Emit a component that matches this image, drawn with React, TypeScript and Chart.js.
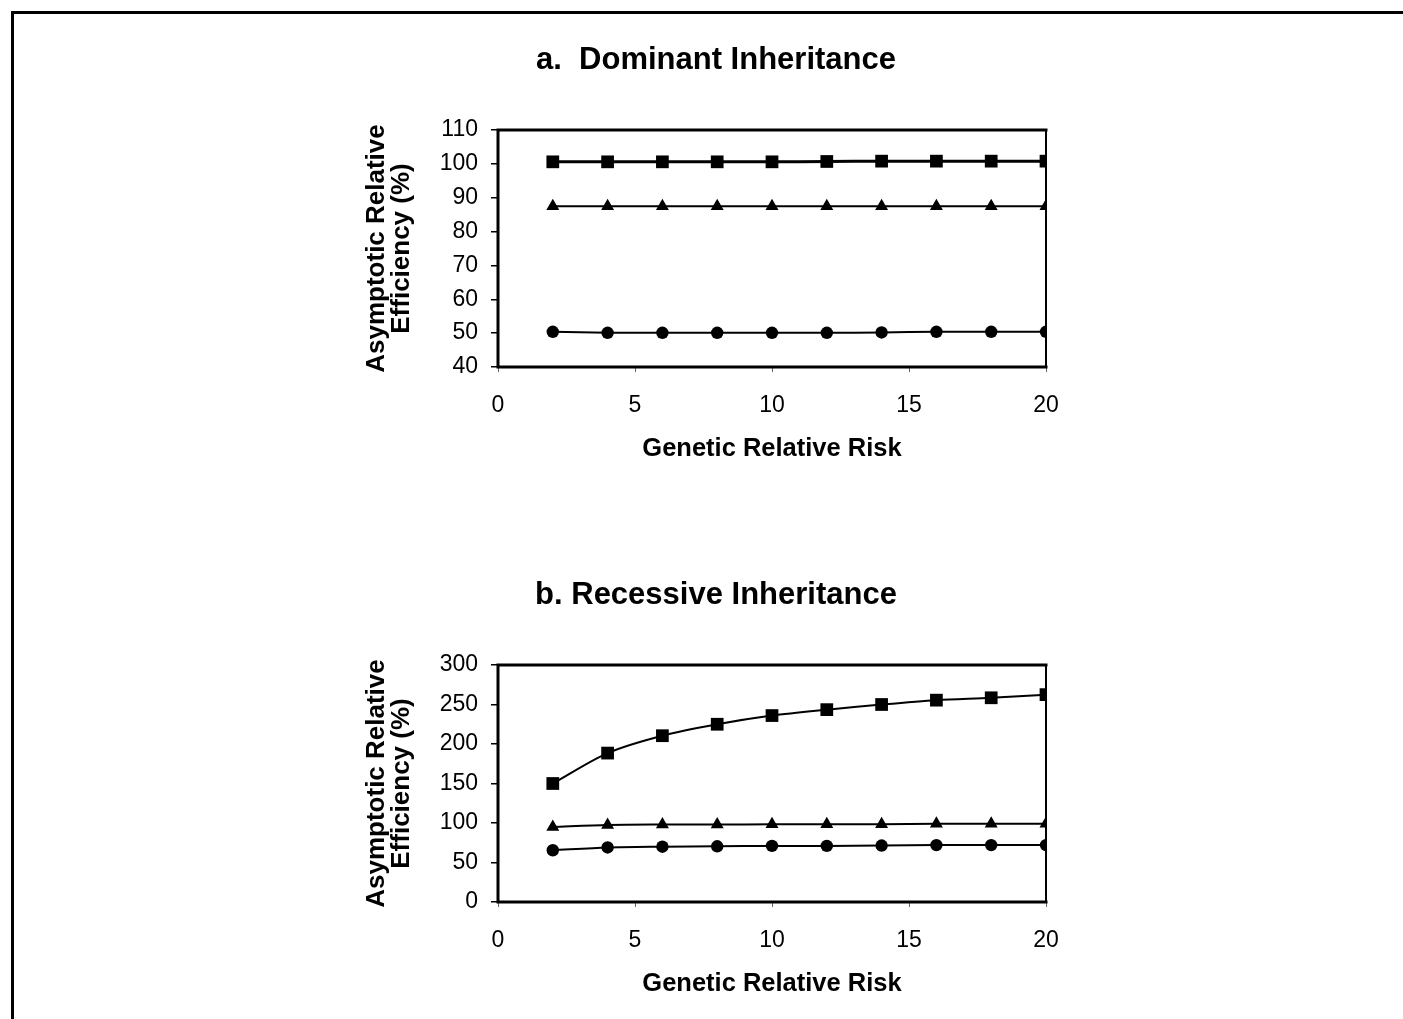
import React, { useEffect, useRef } from "react";
import { Chart, registerables } from "chart.js";

Chart.register(...registerables);

const FONT = "'Liberation Sans', Arial, Helvetica, sans-serif";

// Genetic relative risk values (x)
const riskValues = [2, 4, 6, 8, 10, 12, 14, 16, 18, 20];
const xTickStep = 5;

// a. Dominant inheritance
const dominantSquare = [100.6, 100.6, 100.6, 100.6, 100.6, 100.7, 100.8, 100.8, 100.8, 100.8];
const dominantTriangle = [87.5, 87.5, 87.5, 87.5, 87.5, 87.5, 87.5, 87.5, 87.5, 87.5];
const dominantCircle = [50.4, 50.1, 50.1, 50.1, 50.1, 50.1, 50.2, 50.4, 50.4, 50.4];
const dominantYRange = [40, 110];
const dominantYStep = 10;

// b. Recessive inheritance
const recessiveSquare = [150, 188.5, 210.5, 225, 236, 243.5, 250, 255.5, 258.5, 262.5];
const recessiveTriangle = [95, 97.5, 98, 98, 98.5, 98.5, 98.5, 99, 99, 99];
const recessiveCircle = [65.5, 69, 70, 70.5, 71, 71, 71.5, 72, 72, 72];
const recessiveYRange = [0, 300];
const recessiveYStep = 50;

const titleA = "a.  Dominant Inheritance";
const titleB = "b. Recessive Inheritance";
const xTitle = "Genetic Relative Risk";
const yTitle = ["Asymptotic Relative", "Efficiency (%)"];

const framePlugin = {
  id: "frame",
  afterDatasetsDraw(chart: any) {
    const { ctx, chartArea } = chart;
    const { left, right, top, bottom } = chartArea;
    ctx.save();
    ctx.strokeStyle = "#000";
    ctx.lineCap = "square";
    ctx.lineWidth = 3;
    ctx.beginPath();
    ctx.moveTo(right, top);
    ctx.lineTo(left, top);
    ctx.lineTo(left, bottom);
    ctx.lineTo(right, bottom);
    ctx.stroke();
    ctx.lineWidth = 2;
    ctx.beginPath();
    ctx.moveTo(right, top);
    ctx.lineTo(right, bottom);
    ctx.stroke();
    ctx.restore();
  },
};

function toPoints(values: number[]) {
  return values.map((v, i) => ({ x: riskValues[i], y: v }));
}

function Panel(props: {
  title: string;
  square: number[];
  triangle: number[];
  circle: number[];
  yRange: number[];
  yStep: number;
  top: number;
  squareWidth: number;
}) {
  const ref = useRef<HTMLCanvasElement | null>(null);
  useEffect(() => {
    if (!ref.current) return;
    const mk = (data: number[], style: string, radius: number, width: number) => ({
      data: toPoints(data),
      borderColor: "#000",
      backgroundColor: "#000",
      pointBackgroundColor: "#000",
      pointBorderColor: "#000",
      pointBorderWidth: 0,
      pointStyle: style,
      pointRadius: radius,
      borderWidth: width,
      tension: 0.3,
      fill: false,
    });
    const chart = new Chart(ref.current, {
      type: "line",
      data: {
        datasets: [
          mk(props.square, "rect", 9, props.squareWidth),
          mk(props.triangle, "triangle", 7.5, 2),
          mk(props.circle, "circle", 6.2, 2),
        ] as any,
      },
      options: {
        responsive: false,
        animation: false,
        layout: { padding: { left: 72, right: 68, top: 0, bottom: 0 } },
        plugins: {
          legend: { display: false },
          tooltip: { enabled: false },
          title: {
            display: true,
            text: props.title,
            color: "#000",
            font: { family: FONT, size: 31, weight: "bold", lineHeight: 1.2 },
            padding: { top: 21.4, bottom: 51.4 },
          },
        },
        scales: {
          x: {
            type: "linear",
            min: 0,
            max: 20,
            afterFit: (s: any) => {
              s.height = 110;
            },
            ticks: {
              stepSize: xTickStep,
              color: "#000",
              padding: 20,
              font: { family: FONT, size: 23, lineHeight: 1.2 },
            },
            grid: {
              drawOnChartArea: false,
              drawTicks: true,
              tickLength: 5,
              color: "#666",
              lineWidth: 1,
            },
            border: { display: false },
            title: {
              display: true,
              text: xTitle,
              color: "#000",
              font: { family: FONT, size: 25.5, weight: "bold", lineHeight: 1.2 },
              padding: { top: 0, bottom: 13 },
            },
          },
          y: {
            type: "linear",
            min: props.yRange[0],
            max: props.yRange[1],
            afterFit: (s: any) => {
              s.width = 112;
            },
            ticks: {
              stepSize: props.yStep,
              color: "#000",
              padding: 13,
              font: { family: FONT, size: 23, lineHeight: 1.2 },
            },
            grid: {
              drawOnChartArea: false,
              drawTicks: true,
              tickLength: 7,
              color: "#000",
              lineWidth: 1.5,
            },
            border: { display: false },
            title: {
              display: true,
              text: yTitle,
              color: "#000",
              font: { family: FONT, size: 26, weight: "bold", lineHeight: 0.96 },
              padding: { top: -21.5, bottom: 0 },
            },
          },
        },
      },
      plugins: [framePlugin],
    } as any);
    return () => chart.destroy();
  }, []);
  return (
    <canvas
      ref={ref}
      width={800}
      height={457}
      style={{ position: "absolute", left: 314, top: props.top, width: 800, height: 457, display: "block" }}
    />
  );
}

export default function App() {
  return (
    <div
      style={{
        position: "absolute",
        left: 0,
        top: 0,
        width: 1403,
        height: 1019,
        overflow: "hidden",
        background: "#fff",
      }}
    >
      <div
        style={{
          position: "absolute",
          left: 11,
          top: 11,
          width: 1500,
          height: 1100,
          borderTop: "3px solid #000",
          borderLeft: "3px solid #000",
          boxSizing: "border-box",
        }}
      />
      <Panel
        title={titleA}
        square={dominantSquare}
        triangle={dominantTriangle}
        circle={dominantCircle}
        yRange={dominantYRange}
        yStep={dominantYStep}
        top={20}
        squareWidth={3}
      />
      <Panel
        title={titleB}
        square={recessiveSquare}
        triangle={recessiveTriangle}
        circle={recessiveCircle}
        yRange={recessiveYRange}
        yStep={recessiveYStep}
        top={555}
        squareWidth={2}
      />
    </div>
  );
}
